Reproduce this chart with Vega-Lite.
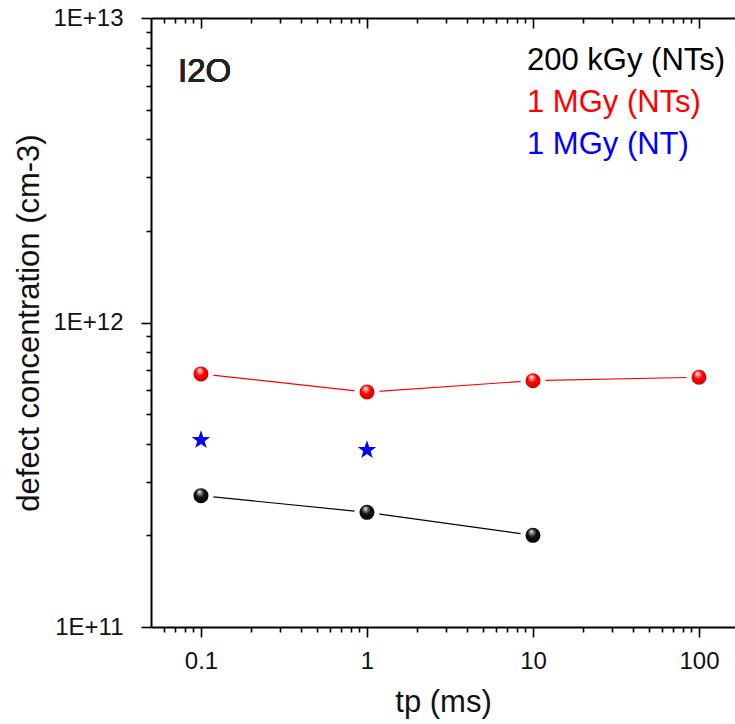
{
  "$schema": "https://vega.github.io/schema/vega-lite/v6.json",
  "autosize": "none",
  "padding": {"left": 151, "top": 18, "right": 0, "bottom": 97},
  "width": 584,
  "height": 609,
  "background": "white",
  "config": {
    "view": {"stroke": null},
    "font": "Liberation Sans",
    "axis": {
      "labelFont": "Liberation Sans",
      "titleFont": "Liberation Sans",
      "labelColor": "#111",
      "titleColor": "#111",
      "titleFontWeight": "normal",
      "domainColor": "black",
      "domainWidth": 2,
      "tickColor": "black",
      "tickWidth": 1.6,
      "grid": false
    }
  },
  "data": {
    "values": [
      {"series": "200 kGy (NTs)", "tp": 0.1, "conc": 2.70e11},
      {"series": "200 kGy (NTs)", "tp": 1, "conc": 2.38e11},
      {"series": "200 kGy (NTs)", "tp": 10, "conc": 2.0e11},
      {"series": "1 MGy (NTs)", "tp": 0.1, "conc": 6.78e11},
      {"series": "1 MGy (NTs)", "tp": 1, "conc": 5.91e11},
      {"series": "1 MGy (NTs)", "tp": 10, "conc": 6.44e11},
      {"series": "1 MGy (NTs)", "tp": 100, "conc": 6.61e11},
      {"series": "1 MGy (NT)", "tp": 0.1, "conc": 4.11e11},
      {"series": "1 MGy (NT)", "tp": 1, "conc": 3.81e11}
    ]
  },
  "resolve": {"axis": {"x": "independent", "y": "independent"}},
  "layer": [
    {
      "transform": [{"filter": "datum.series !== '1 MGy (NT)'"}],
      "mark": {"type": "line", "strokeWidth": 1.2},
      "encoding": {
        "x": {
          "field": "tp", "type": "quantitative",
          "scale": {"type": "log", "domain": [0.05, 164.8], "nice": false},
          "axis": {
            "orient": "bottom",
            "title": "tp (ms)",
            "titleFontSize": 31,
            "titlePadding": 14,
            "labelFontSize": 24,
            "labelPadding": 12,
            "labelOverlap": false,
            "labelBound": false,
            "values": [0.06, 0.07, 0.08, 0.09, 0.1, 0.2, 0.3, 0.4, 0.5, 0.6, 0.7, 0.8, 0.9, 1, 2, 3, 4, 5, 6, 7, 8, 9, 10, 20, 30, 40, 50, 60, 70, 80, 90, 100],
            "labelExpr": "abs(log(datum.value)/LN10 - round(log(datum.value)/LN10)) < 0.001 ? format(datum.value, '~g') : ''",
            "tickSize": {"condition": {"test": "abs(log(datum.value)/LN10 - round(log(datum.value)/LN10)) < 0.001", "value": 10}, "value": 5}
          }
        },
        "y": {
          "field": "conc", "type": "quantitative",
          "scale": {"type": "log", "domain": [1e11, 1e13], "nice": false},
          "axis": {
            "orient": "left",
            "title": "defect concentration (cm-3)",
            "titleFontSize": 31,
            "titlePadding": 7,
            "labelFontSize": 24,
            "labelPadding": 18,
            "labelOverlap": false,
            "labelBound": false,
            "values": [1e11, 2e11, 3e11, 4e11, 5e11, 6e11, 7e11, 8e11, 9e11, 1e12, 2e12, 3e12, 4e12, 5e12, 6e12, 7e12, 8e12, 9e12, 1e13],
            "labelExpr": "abs(log(datum.value)/LN10 - round(log(datum.value)/LN10)) < 0.001 ? '1E+' + round(log(datum.value)/LN10) : ''",
            "tickSize": {"condition": {"test": "abs(log(datum.value)/LN10 - round(log(datum.value)/LN10)) < 0.001", "value": 10}, "value": 5}
          }
        },
        "color": {
          "field": "series", "type": "nominal",
          "scale": {"domain": ["200 kGy (NTs)", "1 MGy (NTs)", "1 MGy (NT)"], "range": ["#000000", "#ff0000", "#0000ff"]},
          "legend": {
            "orient": "none",
            "legendX": 345,
            "legendY": 27,
            "title": null,
            "padding": 0,
            "symbolOpacity": 0,
            "symbolSize": 0,
            "symbolStrokeWidth": 0,
            "labelOffset": 0,
            "labelFont": "Liberation Sans",
            "labelFontSize": 31,
            "labelLimit": 400,
            "rowPadding": 10,
            "encode": {"labels": {"update": {"fill": {"scale": "color", "field": "value"}}}}
          }
        },
        "detail": {"field": "series"}
      }
    },
    {
      "transform": [{"filter": "datum.series === '1 MGy (NTs)'"}],
      "mark": {
        "type": "point", "shape": "circle", "size": 400, "filled": true,
        "stroke": "white", "strokeWidth": 5, "strokeOpacity": 1, "opacity": 1,
        "fill": {
          "gradient": "radial", "x1": 0.42, "y1": 0.3, "r1": 0, "x2": 0.5, "y2": 0.5, "r2": 0.55,
          "stops": [
            {"offset": 0, "color": "#ffffff"},
            {"offset": 0.15, "color": "#ff9a9a"},
            {"offset": 0.4, "color": "#ff0000"},
            {"offset": 1, "color": "#c00000"}
          ]
        }
      },
      "encoding": {
        "x": {
          "field": "tp", "type": "quantitative",
          "axis": {"orient": "top", "title": null, "labels": false, "ticks": false, "domain": true}
        },
        "y": {"field": "conc", "type": "quantitative", "axis": null}
      }
    },
    {
      "transform": [{"filter": "datum.series === '200 kGy (NTs)'"}],
      "mark": {
        "type": "point", "shape": "circle", "size": 400, "filled": true,
        "stroke": "white", "strokeWidth": 5, "strokeOpacity": 1, "opacity": 1,
        "fill": {
          "gradient": "radial", "x1": 0.42, "y1": 0.3, "r1": 0, "x2": 0.5, "y2": 0.5, "r2": 0.55,
          "stops": [
            {"offset": 0, "color": "#ffffff"},
            {"offset": 0.15, "color": "#909090"},
            {"offset": 0.4, "color": "#111111"},
            {"offset": 1, "color": "#000000"}
          ]
        }
      },
      "encoding": {
        "x": {
          "field": "tp", "type": "quantitative",
          "axis": {
            "orient": "top", "title": null, "labels": false, "domain": false,
            "offset": -5, "tickSize": 5,
            "values": [0.06, 0.07, 0.08, 0.09, 0.2, 0.3, 0.4, 0.5, 0.6, 0.7, 0.8, 0.9, 2, 3, 4, 5, 6, 7, 8, 9, 20, 30, 40, 50, 60, 70, 80, 90]
          }
        },
        "y": {"field": "conc", "type": "quantitative", "axis": null}
      }
    },
    {
      "transform": [{"filter": "datum.series === '1 MGy (NT)'"}],
      "mark": {
        "type": "point", "filled": true, "size": 380, "opacity": 1,
        "shape": "M0,-1L0.235,-0.324L0.951,-0.309L0.38,0.124L0.588,0.809L0,0.4L-0.588,0.809L-0.38,0.124L-0.951,-0.309L-0.235,-0.324Z"
      },
      "encoding": {
        "x": {
          "field": "tp", "type": "quantitative",
          "axis": {
            "orient": "top", "title": null, "labels": false, "domain": false,
            "offset": -10, "tickSize": 10,
            "values": [0.1, 1, 10, 100]
          }
        },
        "y": {"field": "conc", "type": "quantitative", "axis": null},
        "color": {"field": "series", "type": "nominal", "legend": null}
      }
    },
    {
      "mark": {"type": "text", "text": "I2O", "font": "Liberation Sans", "fontSize": 33, "align": "left", "baseline": "alphabetic", "color": "#222"},
      "encoding": {
        "x": {"datum": 0.0727, "type": "quantitative", "axis": null},
        "y": {"datum": 6.16e12, "type": "quantitative", "axis": null}
      }
    }
  ]
}
